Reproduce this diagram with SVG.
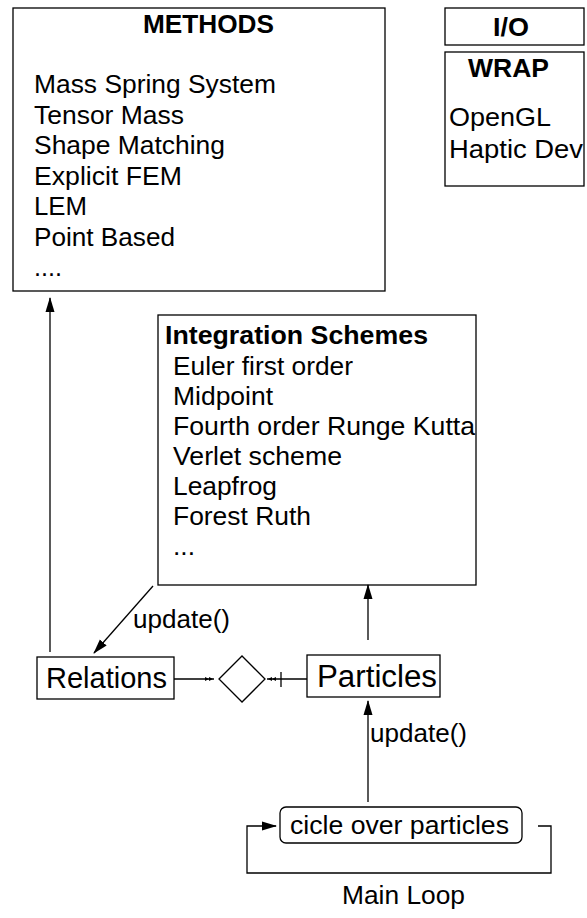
<svg xmlns="http://www.w3.org/2000/svg" width="587" height="918" viewBox="0 0 587 918">
<style>
.box{fill:#fff;stroke:#000;stroke-width:1.3}
.t{font-family:"Liberation Sans",Arial,sans-serif;font-size:26px;fill:#000}
.b{font-family:"Liberation Sans",Arial,sans-serif;font-size:26px;font-weight:bold;fill:#000}
.ln{fill:none;stroke:#000;stroke-width:1.3}
</style>
<defs>
<marker id="ah" markerWidth="15" markerHeight="10" refX="14" refY="5" orient="auto" markerUnits="userSpaceOnUse">
<path d="M0,0.5 L15,5 L0,9.5 Z" fill="#000"/>
</marker>
<marker id="dbl" markerWidth="10" markerHeight="6" refX="9" refY="3" orient="auto" markerUnits="userSpaceOnUse">
<path d="M0,1 L4,3 L0,5 Z M4,1 L8,3 L4,5 Z" fill="#000"/>
</marker>
</defs>

<g id="methods">
<rect class="box" x="13" y="8" width="372" height="283"/>
<text class="b" x="143" y="33" textLength="131" lengthAdjust="spacingAndGlyphs">METHODS</text>
<text class="t" x="34" y="93" textLength="242" lengthAdjust="spacingAndGlyphs">Mass Spring System</text>
<text class="t" x="34" y="124" textLength="150" lengthAdjust="spacingAndGlyphs">Tensor Mass</text>
<text class="t" x="34" y="154" textLength="191" lengthAdjust="spacingAndGlyphs">Shape Matching</text>
<text class="t" x="34" y="185" textLength="148" lengthAdjust="spacingAndGlyphs">Explicit FEM</text>
<text class="t" x="34" y="215" textLength="53" lengthAdjust="spacingAndGlyphs">LEM</text>
<text class="t" x="34" y="246" textLength="141" lengthAdjust="spacingAndGlyphs">Point Based</text>
<text class="t" x="34" y="276" textLength="28" lengthAdjust="spacingAndGlyphs">....</text>
</g>

<g id="io">
<rect class="box" x="445" y="8" width="139" height="37"/>
<text class="b" x="493" y="36" textLength="36" lengthAdjust="spacingAndGlyphs">I/O</text>
</g>

<g id="wrap">
<rect class="box" x="445" y="52" width="139" height="134"/>
<text class="b" x="468" y="77" textLength="81" lengthAdjust="spacingAndGlyphs">WRAP</text>
<text class="t" x="449" y="126" textLength="102" lengthAdjust="spacingAndGlyphs">OpenGL</text>
<text class="t" x="449" y="158" textLength="134" lengthAdjust="spacingAndGlyphs">Haptic Dev</text>
</g>

<g id="integration">
<rect class="box" x="158" y="315" width="318" height="270"/>
<text class="b" x="165" y="344" textLength="263" lengthAdjust="spacingAndGlyphs">Integration Schemes</text>
<text class="t" x="173" y="375" textLength="180" lengthAdjust="spacingAndGlyphs">Euler first order</text>
<text class="t" x="173" y="405" textLength="100" lengthAdjust="spacingAndGlyphs">Midpoint</text>
<text class="t" x="173" y="435" textLength="302" lengthAdjust="spacingAndGlyphs">Fourth order Runge Kutta</text>
<text class="t" x="173" y="465" textLength="169" lengthAdjust="spacingAndGlyphs">Verlet scheme</text>
<text class="t" x="173" y="495" textLength="104" lengthAdjust="spacingAndGlyphs">Leapfrog</text>
<text class="t" x="173" y="525" textLength="138" lengthAdjust="spacingAndGlyphs">Forest Ruth</text>
<text class="t" x="173" y="555" textLength="22" lengthAdjust="spacingAndGlyphs">...</text>
</g>

<g id="relations">
<rect class="box" x="37" y="657" width="137" height="42"/>
<text class="t" x="46" y="688" textLength="121" lengthAdjust="spacingAndGlyphs" style="font-size:29px">Relations</text>
</g>

<g id="diamond">
<path class="box" d="M219,679 L242,656 L265,679 L242,702 Z"/>
</g>

<g id="particles">
<rect class="box" x="307" y="655" width="133" height="42"/>
<text class="t" x="317" y="687" textLength="120" lengthAdjust="spacingAndGlyphs" style="font-size:31px">Particles</text>
</g>

<g id="cicle">
<rect class="box" x="280" y="807" width="242" height="36" rx="6" ry="6"/>
<text class="t" x="290" y="834" textLength="219" lengthAdjust="spacingAndGlyphs">cicle over particles</text>
</g>

<g id="connectors">
<line class="ln" x1="50" y1="652" x2="50" y2="298" marker-end="url(#ah)"/>
<line class="ln" x1="153" y1="586" x2="94" y2="653" marker-end="url(#ah)"/>
<line class="ln" x1="368" y1="640" x2="368" y2="585" marker-end="url(#ah)"/>
<line class="ln" x1="368" y1="802" x2="368" y2="701" marker-end="url(#ah)"/>
<line class="ln" x1="174" y1="679" x2="214" y2="679" marker-end="url(#dbl)"/>
<line class="ln" x1="307" y1="679" x2="267" y2="679" marker-end="url(#dbl)"/>
<line class="ln" x1="281" y1="672" x2="281" y2="687"/>
<polyline class="ln" points="538,826 551,826 551,873 247,873 247,826 276,826" marker-end="url(#ah)"/>
<text class="t" x="133" y="628" textLength="97" lengthAdjust="spacingAndGlyphs">update()</text>
<text class="t" x="370" y="742" textLength="97" lengthAdjust="spacingAndGlyphs">update()</text>
</g>

<text class="t" x="342" y="904" textLength="123" lengthAdjust="spacingAndGlyphs">Main Loop</text>
</svg>
